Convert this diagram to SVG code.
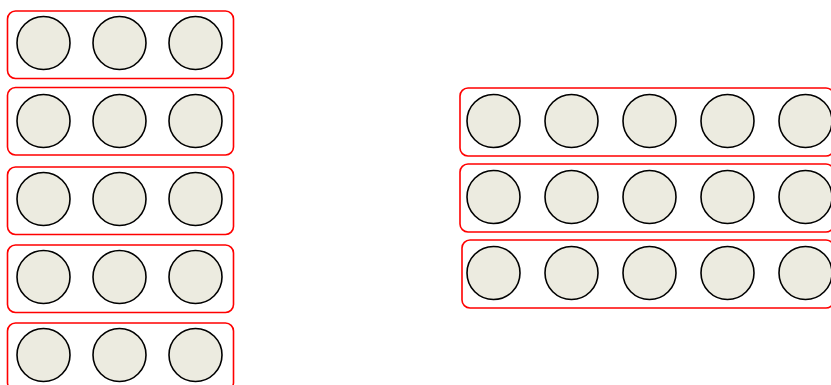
<svg xmlns="http://www.w3.org/2000/svg" width="831" height="385" viewBox="0 0 831 385">
<defs>
<style>
.grp{fill:#ffffff;stroke:#ff0000;stroke-width:1.6}
.c{fill:#ecebe0;stroke:#000000;stroke-width:1.6}
</style>
</defs>
<rect width="831" height="385" fill="#ffffff"/>
<g id="left-row-1">
<rect class="grp" x="7.5" y="11" width="226" height="67.5" rx="8"/>
<circle class="c" cx="43.5" cy="43" r="26.5"/><circle class="c" cx="119.5" cy="43" r="26.5"/><circle class="c" cx="195.5" cy="43" r="26.5"/>
</g>
<g id="left-row-2">
<rect class="grp" x="7.5" y="87.5" width="226" height="67.5" rx="8"/>
<circle class="c" cx="43.5" cy="121" r="26.5"/><circle class="c" cx="119.5" cy="121" r="26.5"/><circle class="c" cx="195.5" cy="121" r="26.5"/>
</g>
<g id="left-row-3">
<rect class="grp" x="7.5" y="167" width="226" height="67.5" rx="8"/>
<circle class="c" cx="43.5" cy="199" r="26.5"/><circle class="c" cx="119.5" cy="199" r="26.5"/><circle class="c" cx="195.5" cy="199" r="26.5"/>
</g>
<g id="left-row-4">
<rect class="grp" x="7.5" y="245" width="226" height="67.5" rx="8"/>
<circle class="c" cx="43.5" cy="277" r="26.5"/><circle class="c" cx="119.5" cy="277" r="26.5"/><circle class="c" cx="195.5" cy="277" r="26.5"/>
</g>
<g id="left-row-5">
<rect class="grp" x="7.5" y="323" width="226" height="67.5" rx="8"/>
<circle class="c" cx="43.5" cy="355" r="26.5"/><circle class="c" cx="119.5" cy="355" r="26.5"/><circle class="c" cx="195.5" cy="355" r="26.5"/>
</g>
<g id="right-row-1">
<rect class="grp" x="460" y="88" width="374" height="68" rx="8"/>
<circle class="c" cx="493.5" cy="121" r="26.5"/><circle class="c" cx="571.5" cy="121" r="26.5"/><circle class="c" cx="649.5" cy="121" r="26.5"/><circle class="c" cx="727.5" cy="121" r="26.5"/><circle class="c" cx="805.5" cy="121" r="26.5"/>
</g>
<g id="right-row-2">
<rect class="grp" x="460" y="164" width="374" height="68" rx="8"/>
<circle class="c" cx="493.5" cy="197" r="26.5"/><circle class="c" cx="571.5" cy="197" r="26.5"/><circle class="c" cx="649.5" cy="197" r="26.5"/><circle class="c" cx="727.5" cy="197" r="26.5"/><circle class="c" cx="805.5" cy="197" r="26.5"/>
</g>
<g id="right-row-3">
<rect class="grp" x="462" y="240" width="372" height="68" rx="8"/>
<circle class="c" cx="493.5" cy="273" r="26.5"/><circle class="c" cx="571.5" cy="273" r="26.5"/><circle class="c" cx="649.5" cy="273" r="26.5"/><circle class="c" cx="727.5" cy="273" r="26.5"/><circle class="c" cx="805.5" cy="273" r="26.5"/>
</g>
<g id="connectors"></g>
</svg>
